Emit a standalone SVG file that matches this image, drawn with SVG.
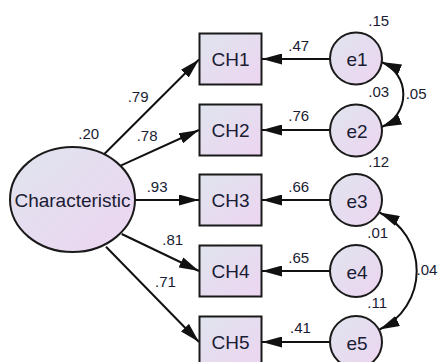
<svg xmlns="http://www.w3.org/2000/svg" width="438" height="362" viewBox="0 0 438 362">
  <defs>
    <linearGradient id="fillGrad" x1="0" y1="0" x2="1" y2="1">
      <stop offset="0" stop-color="#dfe4ee"/>
      <stop offset="1" stop-color="#edd5f1"/>
    </linearGradient>
    <marker id="head" viewBox="0 0 20 11" refX="20" refY="5.5" markerWidth="20" markerHeight="11" markerUnits="userSpaceOnUse" orient="auto-start-reverse">
      <path d="M0,0 L20,5.5 L0,11 Z" fill="#111"/>
    </marker>
  </defs>
  <style>
    .shape { fill: url(#fillGrad); stroke: #1a1a1a; stroke-width: 2; }
    .name { font-family: "Liberation Sans", Arial, sans-serif; font-size: 19px; fill: #1a1c33; text-anchor: middle; }
    .est { font-family: "Liberation Sans", Arial, sans-serif; font-size: 15px; fill: #1a1c33; }
    .path { fill: none; stroke: #111; stroke-width: 2; marker-end: url(#head); }
    .cov { fill: none; stroke: #111; stroke-width: 2; marker-start: url(#head); marker-end: url(#head); }
  </style>

  <!-- connectors -->
  <g id="connectors">
    <line class="path" x1="103.3" y1="155" x2="199" y2="59.5"/>
    <line class="path" x1="120.7" y1="165.7" x2="199" y2="130"/>
    <line class="path" x1="135" y1="200" x2="199" y2="200"/>
    <line class="path" x1="121.7" y1="234" x2="199" y2="271"/>
    <line class="path" x1="106" y1="246.7" x2="199" y2="342"/>

    <line class="path" x1="330" y1="59" x2="262" y2="59"/>
    <line class="path" x1="330" y1="130" x2="262" y2="130"/>
    <line class="path" x1="330" y1="200" x2="262" y2="200"/>
    <line class="path" x1="330" y1="271" x2="262" y2="271"/>
    <line class="path" x1="330" y1="342" x2="262" y2="342"/>

    <path class="cov" d="M381.5,62 A35.1,35.1 0 0 1 381.5,127"/>
    <path class="cov" d="M379.5,212.5 A64.6,64.6 0 0 1 379.5,329.5"/>
  </g>

  <!-- latent factor -->
  <g id="characteristic">
    <ellipse class="shape" cx="72.5" cy="199.5" rx="62.5" ry="52.5"/>
    <text class="name" x="72.5" y="206.5">Characteristic</text>
    <text class="est" x="78.3" y="139.3">.20</text>
  </g>

  <!-- observed indicators -->
  <g id="ch1">
    <rect class="shape" x="199.5" y="33.5" width="62" height="51"/>
    <text class="name" x="230.5" y="66">CH1</text>
  </g>
  <g id="ch2">
    <rect class="shape" x="199.5" y="104.5" width="62" height="51"/>
    <text class="name" x="230.5" y="137">CH2</text>
  </g>
  <g id="ch3">
    <rect class="shape" x="199.5" y="174.5" width="62" height="51"/>
    <text class="name" x="230.5" y="207">CH3</text>
  </g>
  <g id="ch4">
    <rect class="shape" x="199.5" y="245.5" width="62" height="51"/>
    <text class="name" x="230.5" y="278">CH4</text>
  </g>
  <g id="ch5">
    <rect class="shape" x="199.5" y="316.5" width="62" height="51"/>
    <text class="name" x="230.5" y="349">CH5</text>
  </g>

  <!-- error terms -->
  <g id="e1">
    <circle class="shape" cx="356" cy="58.5" r="26"/>
    <text class="name" x="357" y="66">e1</text>
    <text class="est" x="368.3" y="26">.15</text>
  </g>
  <g id="e2">
    <circle class="shape" cx="356" cy="130.5" r="26"/>
    <text class="name" x="357" y="138">e2</text>
    <text class="est" x="368.3" y="96.7">.03</text>
  </g>
  <g id="e3">
    <circle class="shape" cx="356" cy="200" r="26"/>
    <text class="name" x="357" y="207.5">e3</text>
    <text class="est" x="368.3" y="167.3">.12</text>
  </g>
  <g id="e4">
    <circle class="shape" cx="356" cy="271" r="26"/>
    <text class="name" x="357" y="278.5">e4</text>
    <text class="est" x="367.3" y="238.3">.01</text>
  </g>
  <g id="e5">
    <circle class="shape" cx="356" cy="342" r="26"/>
    <text class="name" x="357" y="349.5">e5</text>
    <text class="est" x="367.3" y="308.3">.11</text>
  </g>

  <!-- path coefficients -->
  <g id="loadings">
    <text class="est" x="127.7" y="101.7">.79</text>
    <text class="est" x="136.7" y="140.7">.78</text>
    <text class="est" x="146.7" y="191.7">.93</text>
    <text class="est" x="162.3" y="245">.81</text>
    <text class="est" x="155" y="287.3">.71</text>
    <text class="est" x="288.3" y="50.7">.47</text>
    <text class="est" x="288.3" y="120.7">.76</text>
    <text class="est" x="288.3" y="192.3">.66</text>
    <text class="est" x="288.3" y="262.7">.65</text>
    <text class="est" x="290" y="333.3">.41</text>
    <text class="est" x="405.7" y="99">.05</text>
    <text class="est" x="416.5" y="275">.04</text>
  </g>
</svg>
